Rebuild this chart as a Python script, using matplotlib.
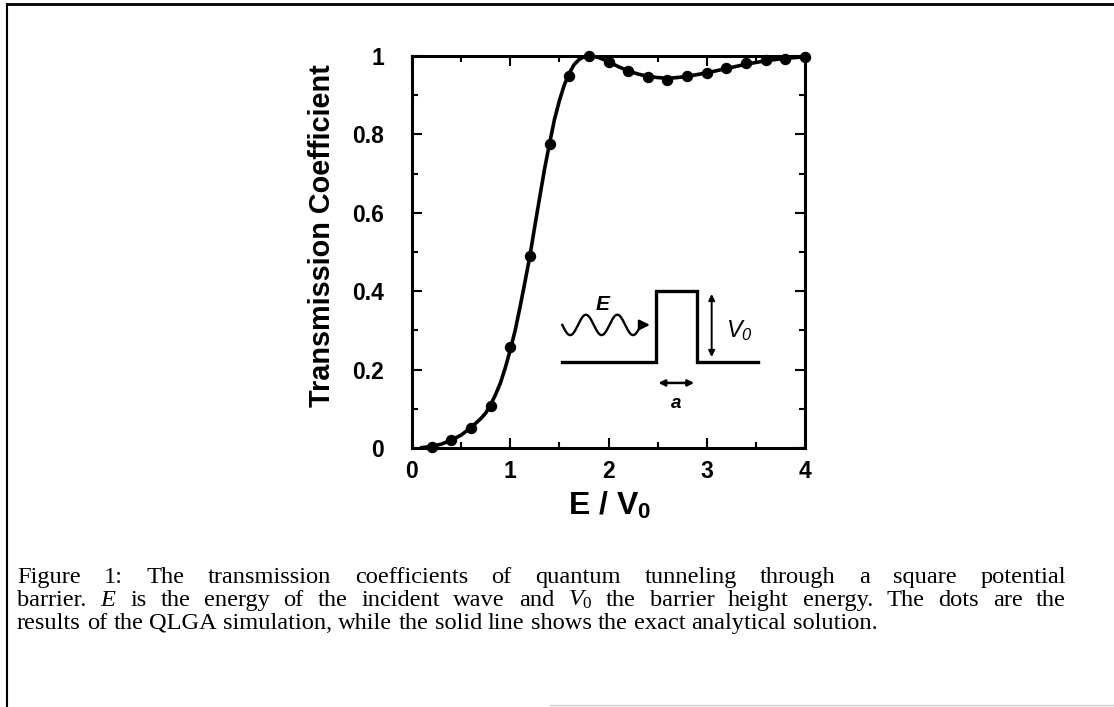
import numpy as np
import matplotlib
matplotlib.use("Agg")
import matplotlib.pyplot as plt
from matplotlib.lines import Line2D

plt.rcParams['mathtext.fontset'] = 'custom'
plt.rcParams['mathtext.bf'] = 'Liberation Sans:bold'
plt.rcParams['mathtext.it'] = 'Liberation Serif:italic'
plt.rcParams['mathtext.rm'] = 'Liberation Serif'
plt.rcParams['mathtext.sf'] = 'Liberation Sans:italic'

# ---- data ----
sim_E = [0.2, 0.4, 0.6, 0.8, 1.0, 1.2, 1.4, 1.6, 1.8, 2.0,
         2.2, 2.4, 2.6, 2.8, 3.0, 3.2, 3.4, 3.6, 3.8, 4.0]
sim_T = [0.003, 0.02, 0.05, 0.107, 0.258, 0.49, 0.776, 0.95, 1.0, 0.985,
         0.962, 0.946, 0.94, 0.948, 0.957, 0.97, 0.983, 0.99, 0.992, 0.998]

exact_E = [0.1, 0.2, 0.3, 0.4, 0.5, 0.6, 0.7, 0.75, 0.8, 0.85, 0.9, 0.95, 1.0,
           1.05, 1.1, 1.15, 1.2, 1.25, 1.3, 1.35, 1.4, 1.45, 1.5, 1.55, 1.6,
           1.65, 1.7, 1.75, 1.8, 1.85, 1.9, 1.95, 2.0, 2.1, 2.2, 2.3, 2.4,
           2.5, 2.6, 2.7, 2.8, 3.0, 3.2, 3.4, 3.6, 3.8, 4.0]
exact_T = [0.001, 0.004, 0.01, 0.02, 0.033, 0.052, 0.075, 0.089, 0.11, 0.136, 0.166, 0.205, 0.25,
           0.30, 0.36, 0.424, 0.49, 0.566, 0.64, 0.713, 0.777, 0.838, 0.886, 0.926, 0.956,
           0.978, 0.991, 0.998, 1.0, 0.999, 0.996, 0.991, 0.985, 0.973, 0.962, 0.954, 0.948,
           0.945, 0.943, 0.945, 0.948, 0.957, 0.968, 0.979, 0.988, 0.994, 0.998]

x_ticks = [0, 1, 2, 3, 4]
y_ticks = [0, 0.2, 0.4, 0.6, 0.8, 1.0]
y_tick_labels = ['0', '0.2', '0.4', '0.6', '0.8', '1']

caption_lines = [
    "Figure 1: The transmission coefficients of quantum tunneling through a square potential",
    "barrier. $\\mathit{E}$ is the energy of the incident wave and $\\mathit{V}_{\\mathit{0}}$ the barrier height energy. The dots are the",
    "results of the QLGA simulation, while the solid line shows the exact analytical solution.",
]

W, H = 1114, 707
fig = plt.figure(figsize=(W / 100, H / 100), dpi=100)

def px(x, y):
    return x / W, 1 - y / H

# page border
fig.add_artist(Line2D([7 / W, 1.0], [1 - 4 / H, 1 - 4 / H], color='black', lw=2.0))
fig.add_artist(Line2D([7 / W, 7 / W], [0, 1 - 4 / H], color='black', lw=1.5))
fig.add_artist(Line2D([550 / W, 1.0], [1 - 705 / H, 1 - 705 / H], color='#cccccc', lw=1.0))

ax = fig.add_axes([412 / W, 1 - 448 / H, 393 / W, 392 / H])
ax.plot(exact_E, exact_T, color='black', lw=2.6, zorder=3, solid_joinstyle='round')
ax.plot(sim_E, sim_T, 'o', color='black', ms=7.2, zorder=4, clip_on=False)
ax.set_xlim(0, 4)
ax.set_ylim(0, 1)
ax.set_xticks(x_ticks)
ax.set_xticklabels([str(v) for v in x_ticks])
ax.set_yticks(y_ticks)
ax.set_yticklabels(y_tick_labels)
ax.set_xticks(np.arange(0, 4.01, 0.5), minor=True)
ax.set_yticks(np.arange(0, 1.01, 0.1), minor=True)
for s in ax.spines.values():
    s.set_linewidth(2.2)
ax.tick_params(which='both', direction='in', top=True, right=True, width=1.5)
ax.tick_params(which='major', length=7)
ax.tick_params(which='minor', length=4)
ax.tick_params(axis='y', which='major', pad=20)
ax.tick_params(axis='x', which='major', pad=9)
for lab in ax.get_xticklabels() + ax.get_yticklabels():
    lab.set_fontfamily('Liberation Sans')
    lab.set_fontweight('bold')
    lab.set_fontsize(16.5)

# axis labels
fig.text(*px(322, 236), 'Transmission Coefficient', rotation=90, ha='center', va='center',
         fontfamily='Liberation Sans', fontweight='bold', fontsize=20.8)
fig.text(*px(610, 506), r'E / V$_\mathbf{0}$', ha='center', va='center',
         fontfamily='Liberation Sans', fontweight='bold', fontsize=23)

# inset barrier diagram (data coords)
base_y = 0.219
top_y = 0.40
ax.plot([1.53, 2.48, 2.48, 2.90, 2.90, 3.52], [base_y, base_y, top_y, top_y, base_y, base_y],
        color='black', lw=2.4, solid_joinstyle='miter', zorder=2)
wx = np.linspace(1.53, 2.33, 200)
wy = 0.314 + 0.026 * np.sin((wx - 1.53) / 0.32 * 2 * np.pi + np.pi)
ax.plot(wx, wy, color='black', lw=1.7, zorder=2)
ax.annotate('', xy=(2.45, 0.314), xytext=(2.30, 0.314),
            arrowprops=dict(arrowstyle='-|>', color='black', lw=1.7, mutation_scale=15))
ax.annotate('', xy=(3.05, 0.40), xytext=(3.05, 0.225),
            arrowprops=dict(arrowstyle='<|-|>', color='black', lw=1.4, mutation_scale=9))
ax.annotate('', xy=(2.48, 0.166), xytext=(2.90, 0.166),
            arrowprops=dict(arrowstyle='<|-|>', color='black', lw=1.8, mutation_scale=9))
ax.text(1.94, 0.365, 'E', ha='center', va='center', fontfamily='Liberation Sans',
        fontweight='bold', fontstyle='italic', fontsize=15)
ax.text(2.69, 0.113, 'a', ha='center', va='center', fontfamily='Liberation Sans',
        fontweight='bold', fontstyle='italic', fontsize=13.5)
ax.text(3.33, 0.30, r'$\mathsf{V}_{\mathsf{0}}$', ha='center', va='center', fontsize=17)

# caption, justified
renderer = fig.canvas.get_renderer()
left_px, right_px = 17, 1066
baselines = [583, 606, 629]
cap_size = 17.6
for i, (line, yb) in enumerate(zip(caption_lines, baselines)):
    words = line.split(' ')
    texts = []
    for w in words:
        t = fig.text(0, 1 - yb / H, w, ha='left', va='baseline',
                     fontfamily='Liberation Serif', fontsize=cap_size)
        texts.append(t)
    widths = [t.get_window_extent(renderer).width for t in texts]
    if i < len(caption_lines) - 1:
        gap = (right_px - left_px - sum(widths)) / (len(texts) - 1)
    else:
        sp = fig.text(0, 0, 'a a', fontfamily='Liberation Serif', fontsize=cap_size)
        sp2 = fig.text(0, 0, 'aa', fontfamily='Liberation Serif', fontsize=cap_size)
        gap = sp.get_window_extent(renderer).width - sp2.get_window_extent(renderer).width
        sp.remove(); sp2.remove()
    xcur = left_px
    for t, w in zip(texts, widths):
        t.set_x(xcur / W)
        xcur += w + gap

fig.savefig('out.png', dpi=100, facecolor='white')
